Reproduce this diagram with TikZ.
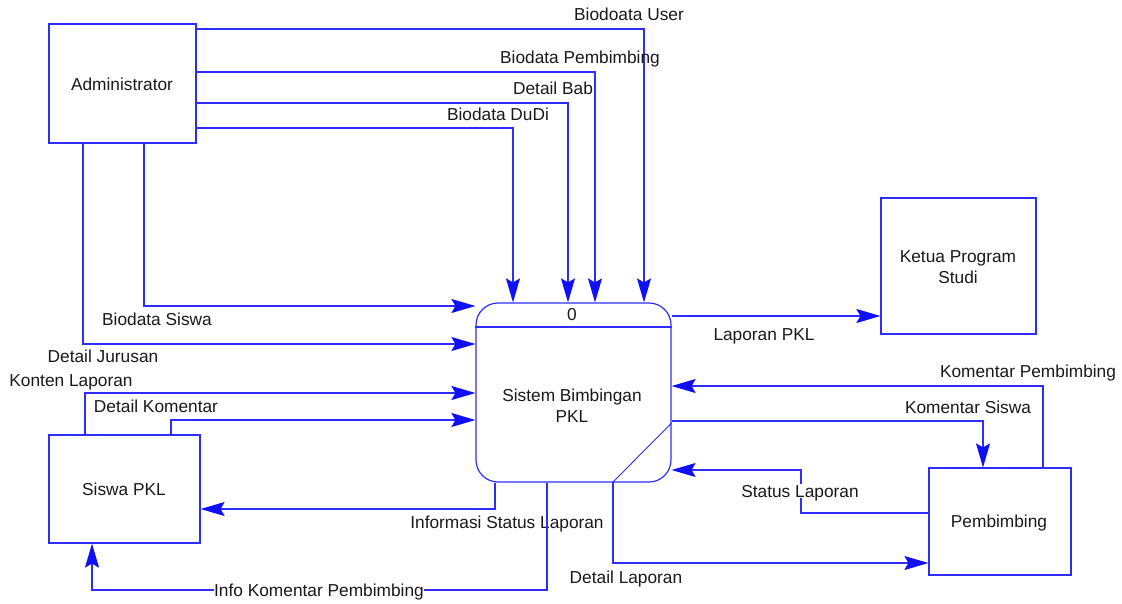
\documentclass[tikz,border=0pt]{standalone}
\usepackage{fontspec}
\setmainfont{Liberation Sans}
\usetikzlibrary{arrows.meta}
\definecolor{ln}{RGB}{45,45,255}
\definecolor{ah}{RGB}{15,15,250}
\definecolor{tx}{RGB}{25,25,25}
\newcommand\dfdfont{\fontsize{17.3}{21}\selectfont}
\tikzset{dfdtip/.tip={Stealth[length=24pt,width=14pt,inset=4pt,color=ah,fill=ah]}}
\begin{document}
\begin{tikzpicture}[x=1pt,y=-1pt,
  box/.style={draw=ln, line width=1.2pt, rectangle, inner sep=0pt, text=tx, align=center, font=\dfdfont},
  flow/.style={draw=ln, line width=1.2pt, arrows={-dfdtip}},
  plain/.style={draw=ln, line width=1.2pt},
  lbl/.style={text=tx, font=\dfdfont, inner sep=1pt, text height=12.4pt, text depth=0pt},
  wlbl/.style={lbl, fill=white, inner xsep=0pt}]
\useasboundingbox (0,0) rectangle (1122,603);
% external entities
\node[box, minimum width=147pt, minimum height=119pt] (admin) at (122.5,83.5) {};
\node[lbl] (admintxt) at (122,84) {Administrator};
\node[box, minimum width=155pt, minimum height=136pt] (ketua) at (958.5,266) {};
\node[text=tx, font=\dfdfont, align=center] (ketuatxt) at (958,267) {Ketua Program\\Studi};
\node[box, minimum width=151pt, minimum height=108pt] (siswa) at (124.5,489) {};
\node[lbl] (siswatxt) at (124,489) {Siswa PKL};
\node[box, minimum width=142pt, minimum height=107pt] (pemb) at (1000,521.5) {};
\node[lbl] (pembtxt) at (999,521) {Pembimbing};
% process
\node[box, rounded corners=22pt, minimum width=195pt, minimum height=179pt] (proc) at (573.5,392.5) {};
\draw[plain] (proc.west |- 0,327) -- (proc.east |- 0,327);
\node[lbl] (procnum) at (572,314) {0};
\node[text=tx, font=\dfdfont, align=center] (proctxt) at (572,406) {Sistem Bimbingan\\PKL};
\draw[plain, line width=0.9pt] (proc.east |- 0,423) -- (613,482);
% flows from administrator
\draw[flow] (admin.east |- 0,29) -| (proc.north -| 644,0);
\draw[flow] (admin.east |- 0,72) -| (proc.north -| 595,0);
\draw[flow] (admin.east |- 0,103) -| (proc.north -| 568,0);
\draw[flow] (admin.east |- 0,128) -| (proc.north -| 513,0);
\draw[flow] (admin.south -| 144,0) |- (proc.west |- 0,306);
\draw[flow] (admin.south -| 83,0) |- (proc.west |- 0,344);
\node[lbl] (l1) at (629,14) {Biodoata User};
\node[lbl] (l2) at (580,57) {Biodata Pembimbing};
\node[lbl] (l3) at (553,88) {Detail Bab};
\node[lbl] (l4) at (498,114) {Biodata DuDi};
\node[lbl] (l5) at (157,319) {Biodata Siswa};
\node[lbl] (l6) at (103,356) {Detail Jurusan};
% flows from siswa
\draw[flow] (siswa.north -| 85,0) |- (proc.west |- 0,393);
\draw[flow] (siswa.north -| 171,0) |- (proc.west |- 0,420);
\node[lbl] (l7) at (71,380) {Konten Laporan};
\node[lbl] (l8) at (156,406) {Detail Komentar};
% right side
\draw[flow] (proc.east |- 0,316) -- (ketua.west |- 0,316);
\node[lbl] (l9) at (764,334) {Laporan PKL};
\draw[flow] (pemb.north -| 1043,0) |- (proc.east |- 0,386);
\node[lbl] (l10) at (1028,371) {Komentar Pembimbing};
\draw[flow] (proc.east |- 0,421) -| (pemb.north -| 983,0);
\node[lbl] (l11) at (968,407) {Komentar Siswa};
\coordinate (sbend) at (801,470);
\draw[flow] (pemb.west |- 0,513) -| (sbend) -- (proc.east |- sbend);
\node[wlbl] (l12) at (800,491) {Status Laporan};
\coordinate (dstart) at (613,482);
\draw[flow] (dstart) |- (pemb.west |- 0,563);
\node[lbl] (l13) at (626,577) {Detail Laporan};
% bottom
\draw[flow] (proc.south -| 495,0) |- (siswa.east |- 0,509);
\node[lbl] (l14) at (507,522) {Informasi Status Laporan};
\draw[flow] (proc.south -| 547,0) |- (92,590) -- (siswa.south -| 92,0);
\node[wlbl] (l15) at (319,590) {Info Komentar Pembimbing};
\end{tikzpicture}
\end{document}
